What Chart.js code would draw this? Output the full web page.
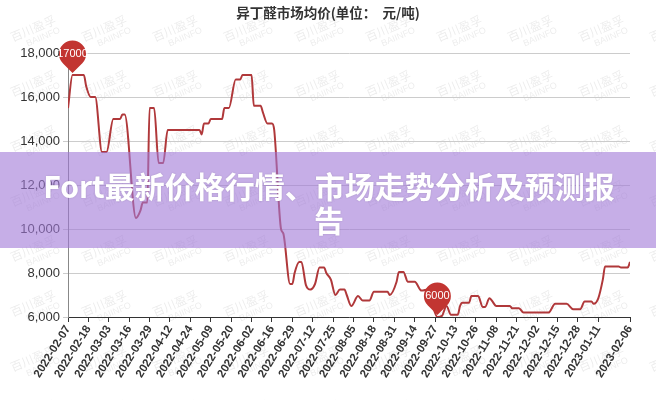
<!DOCTYPE html>
<html>
<head>
<meta charset="utf-8">
<script src="https://cdn.jsdelivr.net/npm/chart.js@4"></script>
<style>
  body { margin: 0; background: #fff; }
</style>
</head>
<body>
<canvas id="myChart" width="656" height="400"></canvas>
<script>
const chartTitle = "异丁醛市场均价(单位：  元/吨)";
const bannerText = "Fort最新价格行情、市场走势分析及预测报告";

// x positions are trading-day indices, ticks are shown every 9 days
const tickIdx = [0, 9, 18, 27, 36, 45, 54, 63, 72, 81, 90, 99, 108, 117, 126, 135, 144, 153, 162, 171, 180, 189, 198, 207, 216, 225, 234, 248];
const tickLabels = ["2022-02-07", "2022-02-18", "2022-03-03", "2022-03-16", "2022-03-29", "2022-04-12", "2022-04-24", "2022-05-09", "2022-05-20", "2022-06-02", "2022-06-16", "2022-06-29", "2022-07-12", "2022-07-25", "2022-08-05", "2022-08-18", "2022-08-31", "2022-09-14", "2022-09-27", "2022-10-13", "2022-10-26", "2022-11-08", "2022-11-21", "2022-12-02", "2022-12-15", "2022-12-28", "2023-01-11", "2023-02-06"];

const dayIdx = [0, 2, 7, 8, 10, 12, 15, 17, 20, 23, 24, 25, 30, 32, 33, 35, 36, 38, 40, 42, 44, 58, 59, 60, 62, 63, 68, 69, 71, 74, 76, 77, 81, 82, 85, 86, 88, 90, 91, 94, 95, 98, 99, 100, 102, 103, 105, 107, 109, 111, 113, 114, 116, 118, 120, 122, 123, 125, 128, 130, 133, 135, 141, 142, 145, 146, 148, 150, 153, 156, 159, 161, 163, 165, 167, 169, 172, 173, 174, 177, 178, 181, 183, 184, 186, 187, 189, 195, 196, 199, 201, 212, 215, 220, 223, 226, 228, 231, 232, 234, 236, 237, 243, 244, 247, 248];
const price = [15500, 17000, 17000, 16500, 16000, 16000, 13500, 13500, 15000, 15000, 15200, 15200, 10500, 10850, 11200, 11200, 15500, 15500, 13000, 13000, 14500, 14500, 14300, 14800, 14800, 15000, 15000, 15500, 15500, 16800, 16800, 17000, 17000, 15600, 15600, 15300, 14800, 14800, 14500, 10000, 9800, 7500, 7500, 8000, 8500, 8500, 7450, 7250, 7500, 8250, 8250, 8000, 7700, 7000, 7250, 7250, 7000, 6500, 6950, 6750, 6750, 7150, 7150, 7000, 7600, 8050, 8050, 7600, 7600, 7200, 7250, 6500, 6000, 6050, 6500, 6100, 6100, 6500, 6650, 6650, 6950, 6950, 6450, 6450, 6850, 6750, 6500, 6500, 6400, 6400, 6200, 6200, 6600, 6600, 6350, 6350, 6700, 6700, 6600, 6850, 7700, 8300, 8300, 8250, 8250, 8500];

const yTicks = [6000, 8000, 10000, 12000, 14000, 16000, 18000];

const points = dayIdx.map((d, i) => ({ x: d, y: price[i] }));

const cjk = '"Noto Sans CJK SC", sans-serif';
const latin = '"Liberation Sans", Arial, sans-serif';

// background + watermark tiles
const backgroundPlugin = {
  id: "bg",
  beforeDraw(chart) {
    const ctx = chart.ctx;
    ctx.save();
    ctx.fillStyle = "#fff";
    ctx.fillRect(0, 0, chart.width, chart.height);
    ctx.fillStyle = "rgba(0,0,0,0.08)";
    ctx.textAlign = "center";
    ctx.textBaseline = "middle";
    for (let cx = 35; cx < chart.width + 40; cx += 71) {
      for (let cy = 33; cy < chart.height + 30; cy += 55) {
        ctx.save();
        ctx.translate(cx, cy);
        ctx.rotate(-0.4);
        ctx.font = "12px " + cjk;
        ctx.fillText("百川盈孚", 0, -5);
        ctx.font = "9px " + latin;
        ctx.fillText("BAIINFO", 6, 7);
        ctx.restore();
      }
    }
    ctx.fillStyle = "#333";
    ctx.font = "bold 13.5px " + cjk;
    ctx.fillText(chartTitle, 328, 13);
    ctx.restore();
  },
};

function drawPin(ctx, x, y, label) {
  const r = 13.5;
  const tipY = y - 2;
  const cy = tipY - 19;
  const a = Math.acos(r / 19);
  ctx.save();
  ctx.fillStyle = "#c23531";
  ctx.beginPath();
  ctx.moveTo(x, tipY);
  ctx.arc(x, cy, r, Math.PI / 2 + a, Math.PI / 2 - a + Math.PI * 2);
  ctx.closePath();
  ctx.fill();
  ctx.fillStyle = "#fff";
  ctx.font = "11px " + latin;
  ctx.textAlign = "center";
  ctx.textBaseline = "middle";
  ctx.fillText(label, x, cy);
  ctx.restore();
}

const overlayPlugin = {
  id: "overlay",
  afterDraw(chart) {
    const ctx = chart.ctx;
    const xs = chart.scales.x, ys = chart.scales.y;
    // max / min markers
    const maxV = Math.max(...price), minV = Math.min(...price);
    const iMax = price.indexOf(maxV), iMin = price.indexOf(minV);
    drawPin(ctx, xs.getPixelForValue(dayIdx[iMax]), ys.getPixelForValue(maxV), String(maxV));
    drawPin(ctx, xs.getPixelForValue(dayIdx[iMin]), ys.getPixelForValue(minV), String(minV));

    // banner
    ctx.save();
    ctx.fillStyle = "rgba(160,120,215,0.6)";
    ctx.fillRect(0, 152, chart.width, 96);
    ctx.font = "bold 30px " + cjk;
    ctx.fillStyle = "#fff";
    ctx.textAlign = "center";
    ctx.textBaseline = "middle";
    ctx.shadowColor = "rgba(0,0,0,0.15)";
    ctx.shadowBlur = 2;
    const lines = [];
    let cur = "";
    for (const ch of bannerText) {
      if (ctx.measureText(cur + ch).width > 590 && cur) {
        lines.push(cur);
        cur = ch;
      } else cur += ch;
    }
    lines.push(cur);
    lines.forEach((l, i) => ctx.fillText(l, 329, 187 + i * 34));
    ctx.restore();
  },
};

const ctx = document.getElementById("myChart").getContext("2d");
window.chart = new Chart(ctx, {
  type: "line",
  data: {
    datasets: [
      {
        data: points,
        borderColor: "#b0383a",
        borderWidth: 2,
        pointRadius: 0,
        cubicInterpolationMode: "monotone",
        fill: false,
      },
    ],
  },
  options: {
    responsive: false,
    animation: false,
    layout: { padding: { top: 53, right: 26, left: 0, bottom: 0 } },
    plugins: {
      legend: { display: false },
      tooltip: { enabled: false },
      title: { display: false },
    },
    scales: {
      x: {
        type: "linear",
        min: 0,
        max: 248,
        afterBuildTicks: (scale) => {
          scale.ticks = tickIdx.map((v) => ({ value: v }));
        },
        afterFit: (scale) => {
          scale.height = 83;
        },
        ticks: {
          autoSkip: false,
          minRotation: 58,
          maxRotation: 58,
          padding: 1,
          color: "#333",
          font: { family: latin, size: 11.5, weight: "bold" },
          callback: (v) => tickLabels[tickIdx.indexOf(v)],
        },
        grid: { drawOnChartArea: false, drawTicks: true, tickLength: 5, color: "#333" },
        border: { color: "#333", width: 1 },
      },
      y: {
        min: 6000,
        max: 18000,
        afterBuildTicks: (scale) => {
          scale.ticks = yTicks.map((v) => ({ value: v }));
        },
        afterFit: (scale) => {
          scale.width = 68;
        },
        ticks: {
          padding: 3,
          color: "#333",
          font: { family: latin, size: 13 },
          callback: (v) => v.toLocaleString("en-US"),
        },
        grid: { color: "#ccc", tickLength: 5 },
        border: { color: "#888", width: 1 },
      },
    },
  },
  plugins: [backgroundPlugin, overlayPlugin],
});
</script>
</body>
</html>
